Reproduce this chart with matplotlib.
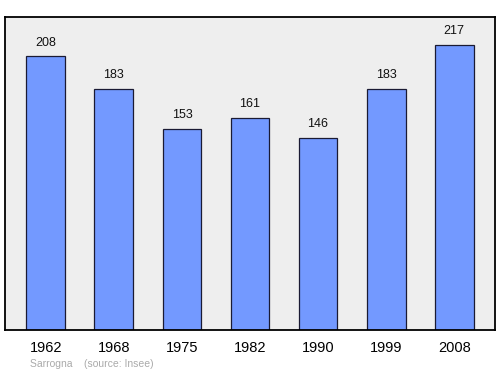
import matplotlib
matplotlib.use("Agg")
import matplotlib.pyplot as plt

plt.rcParams['font.family'] = ['Liberation Sans', 'DejaVu Sans']

# Données (population)
annees = ["1962", "1968", "1975", "1982", "1990", "1999", "2008"]
population = [208, 183, 153, 161, 146, 183, 217]

fig = plt.figure(figsize=(5, 3.74), dpi=100)
ax = fig.add_axes([0.01, 0.1176, 0.98, 0.837])
ax.set_facecolor("#eeeeee")

x = range(len(annees))
ax.bar(x, population, width=0.57, color="#7399ff", edgecolor="#1a1a33", linewidth=0.9)

# valeurs au-dessus des barres
for i, v in zip(x, population):
    ax.annotate(str(v), (i, v), xytext=(0, 10), textcoords="offset points",
                ha="center", va="center", fontsize=9, color="#111111")

ax.set_xlim(-0.6, len(annees) - 0.4)
ax.set_ylim(0, 238)
ax.set_yticks([])
ax.set_xticks(list(x))
ax.set_xticklabels(annees, fontsize=10.5)
ax.tick_params(axis="x", length=0, pad=8)
for s in ax.spines.values():
    s.set_linewidth(1.3)

fig.text(0.06, 0.018, "Sarrogna    (source: Insee)", fontsize=7.5, color="#aaaaaa", ha="left")

fig.savefig("out.png", dpi=100)
